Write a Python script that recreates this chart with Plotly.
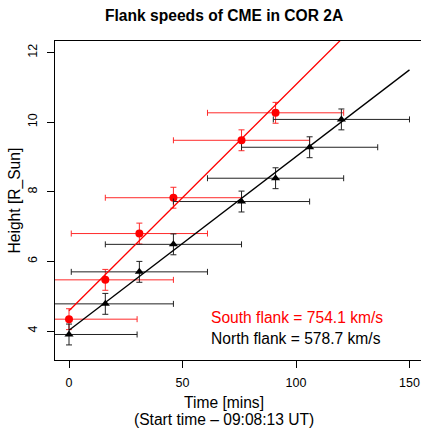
import plotly.graph_objects as go

# ---- data ----
south_time = [0, 16, 31, 46, 76, 91]
south_height = [4.34, 5.47, 6.80, 7.83, 9.48, 10.27]
north_time = [0, 16, 31, 46, 76, 91, 106, 120]
north_height = [3.90, 4.78, 5.70, 6.49, 7.72, 8.39, 9.28, 10.08]
time_err = 30
height_err = 0.3

south_speed = 754.1   # km/s
north_speed = 578.7   # km/s
south_intercept = 4.58
north_intercept = 4.02
fit_time = [0, 150]

x_ticks = [0, 50, 100, 150]
y_ticks = [4, 6, 8, 10, 12]

RSUN_KM = 696000.0


def slope(v):
    return v * 60.0 / RSUN_KM  # R_sun per minute


FONT = "Liberation Sans, Arial, Helvetica, sans-serif"

fig = go.Figure()

fig.add_trace(go.Scatter(
    x=south_time, y=south_height, mode="markers",
    marker=dict(symbol="circle", size=8, color="#ff0000"),
    error_x=dict(type="constant", value=time_err, color="#ff2a2a", thickness=1, width=3),
    error_y=dict(type="constant", value=height_err, color="#ff2a2a", thickness=1, width=3),
    showlegend=False))

fig.add_trace(go.Scatter(
    x=north_time, y=north_height, mode="markers",
    marker=dict(symbol="triangle-up", size=8, color="#000000"),
    error_x=dict(type="constant", value=time_err, color="#222222", thickness=1, width=3),
    error_y=dict(type="constant", value=height_err, color="#222222", thickness=1, width=3),
    showlegend=False))

fig.add_trace(go.Scatter(
    x=fit_time, y=[south_intercept + slope(south_speed) * t for t in fit_time],
    mode="lines", line=dict(color="#ff0000", width=1.3), showlegend=False))

fig.add_trace(go.Scatter(
    x=fit_time, y=[north_intercept + slope(north_speed) * t for t in fit_time],
    mode="lines", line=dict(color="#000000", width=1.3), showlegend=False))

fig.update_layout(
    width=421, height=429,
    margin=dict(l=55, r=0, t=41, b=69),
    paper_bgcolor="white", plot_bgcolor="white",
    font=dict(family=FONT, color="black", size=12.5),
    xaxis=dict(range=[-6.17, 155.07], tickvals=x_ticks, ticks="outside", ticklen=7,
               tickcolor="black", showline=True, linecolor="black", linewidth=1,
               mirror=True, showgrid=False, zeroline=False, ticklabelstandoff=4,
               tickfont=dict(size=12.5)),
    yaxis=dict(range=[3.167, 12.333], tickvals=y_ticks, ticks="outside", ticklen=7,
               tickcolor="black", showline=True, linecolor="black", linewidth=1,
               mirror=False, showgrid=False, zeroline=False, tickangle=-90,
               ticklabelstandoff=5, tickfont=dict(size=12.5)),
    annotations=[
        dict(text="<b>Flank speeds of CME in COR 2A</b>", xref="paper", yref="paper",
             x=(223.5 - 55) / 366, y=(360 - 15) / 319, xanchor="center", yanchor="middle",
             showarrow=False, font=dict(size=15.6, family=FONT)),
        dict(text="Time [mins]", xref="paper", yref="paper",
             x=(223.5 - 55) / 366, y=(360 - 402) / 319, xanchor="center", yanchor="middle",
             showarrow=False, font=dict(size=15.6, family=FONT)),
        dict(text="(Start time \u2013 09:08:13 UT)", xref="paper", yref="paper",
             x=(223.5 - 55) / 366, y=(360 - 419) / 319, xanchor="center", yanchor="middle",
             showarrow=False, font=dict(size=15.6, family=FONT)),
        dict(text="Height [R_Sun]", xref="paper", yref="paper",
             x=(14 - 55) / 366, y=(360 - 200.5) / 319, xanchor="center", yanchor="middle",
             textangle=-90, showarrow=False, font=dict(size=15.6, family=FONT)),
        dict(text="South flank = %.1f km/s" % south_speed, xref="paper", yref="paper",
             x=(209 - 55) / 366, y=(360 - 317) / 319, xanchor="left", yanchor="middle",
             showarrow=False, font=dict(size=15.6, family=FONT, color="#ff0000")),
        dict(text="North flank = %.1f km/s" % north_speed, xref="paper", yref="paper",
             x=(209 - 55) / 366, y=(360 - 338) / 319, xanchor="left", yanchor="middle",
             showarrow=False, font=dict(size=15.6, family=FONT, color="#000000")),
    ],
)

fig.write_html("out.html")
